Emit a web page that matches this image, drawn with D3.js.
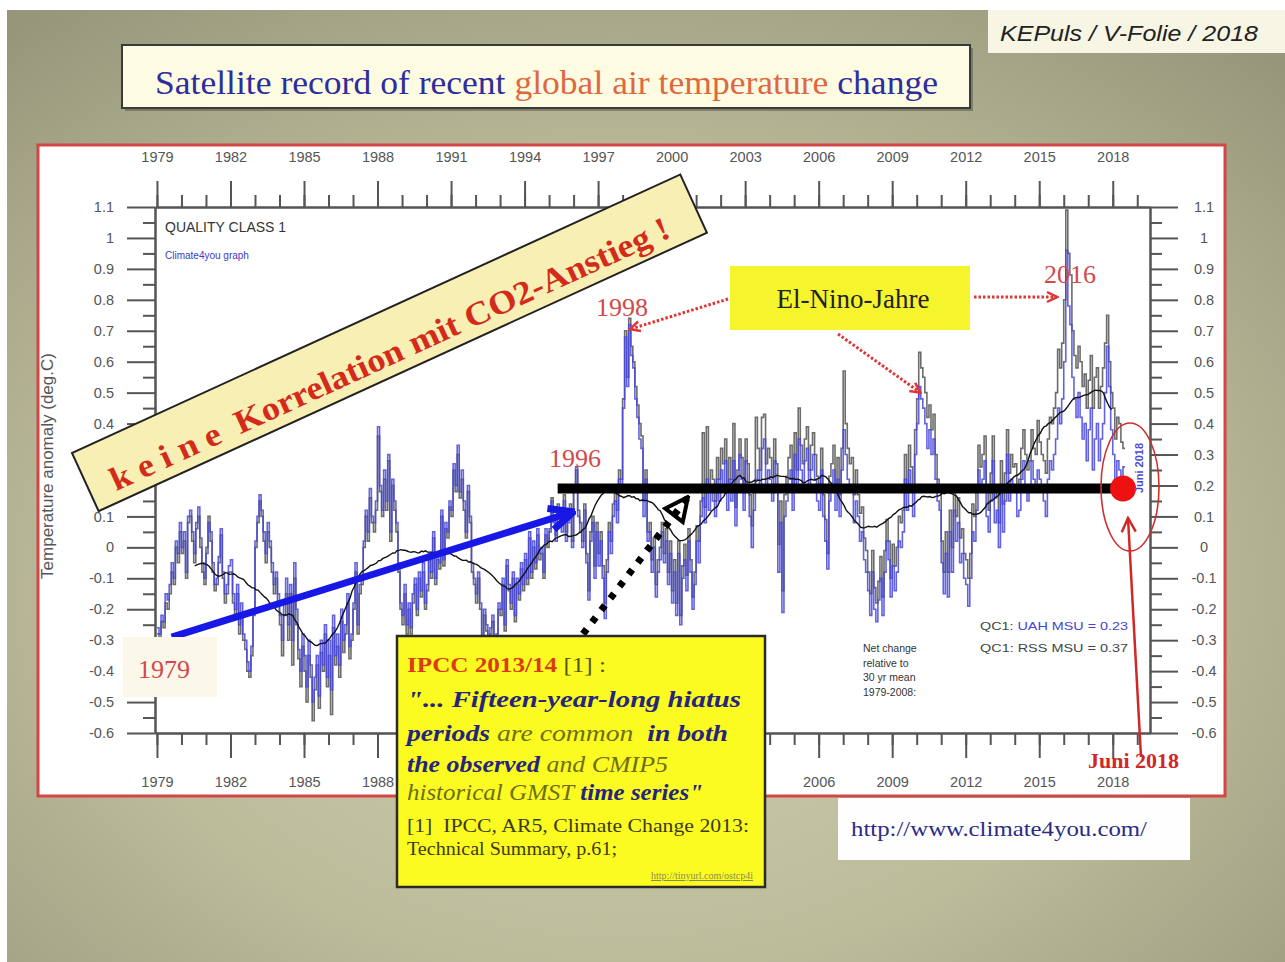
<!DOCTYPE html>
<html><head><meta charset="utf-8">
<script src="https://cdn.jsdelivr.net/npm/d3@7/dist/d3.min.js"></script>
<style>body{margin:0;background:#fff}svg{display:block}</style>
</head><body><svg id="c" width="1285" height="962"></svg>
<script>
// ---------------- DATA ----------------
const startYear = 1979;           // first month = Jan 1979
// UAH MSU lower troposphere, monthly anomaly (deg C) (blue)
const uah = [
-0.26,-0.28,-0.22,-0.24,-0.15,-0.17,-0.12,-0.05,-0.10,0.02,-0.02,0.08,
0.00,0.05,-0.08,0.10,0.12,0.05,-0.02,0.08,0.13,0.03,-0.05,-0.10,
-0.02,0.08,0.05,-0.05,-0.12,-0.10,-0.03,0.06,-0.08,-0.15,-0.12,-0.06,
-0.04,-0.15,-0.20,-0.12,-0.25,-0.18,-0.28,-0.30,-0.37,-0.40,-0.32,-0.20,
0.02,0.10,0.17,0.12,0.05,-0.02,0.08,0.02,-0.05,-0.12,-0.08,-0.15,
-0.22,-0.30,-0.18,-0.10,-0.25,-0.12,-0.30,-0.05,-0.20,-0.33,-0.40,-0.28,
-0.35,-0.45,-0.30,-0.38,-0.50,-0.42,-0.35,-0.48,-0.30,-0.38,-0.25,-0.42,
-0.30,-0.46,-0.22,-0.35,-0.28,-0.38,-0.20,-0.30,-0.25,-0.15,-0.32,-0.28,
-0.18,-0.05,-0.25,-0.12,-0.10,0.02,0.12,0.05,0.19,0.10,0.08,0.15,
0.39,0.20,0.12,0.25,0.15,0.30,0.05,0.22,0.15,0.08,-0.05,-0.18,
-0.22,-0.12,-0.25,-0.18,-0.26,-0.15,-0.10,-0.20,-0.08,-0.14,-0.05,-0.18,
-0.12,-0.02,-0.08,0.05,-0.10,-0.02,-0.05,0.12,-0.04,0.08,0.05,0.15,
0.12,0.27,0.20,0.33,0.18,0.25,0.15,0.05,0.20,0.10,-0.05,-0.10,
-0.15,-0.08,-0.18,-0.28,-0.20,-0.25,-0.30,-0.26,-0.22,-0.30,-0.28,-0.18,
-0.20,-0.10,-0.25,-0.04,-0.12,-0.18,-0.08,-0.22,-0.10,-0.15,-0.05,-0.12,
-0.02,-0.10,0.05,-0.08,0.02,-0.05,0.06,-0.02,0.00,-0.08,0.06,0.02,
0.05,0.15,0.08,0.02,0.12,0.10,0.05,0.15,0.02,0.08,0.12,0.00,
0.18,0.26,0.10,0.05,0.00,0.12,-0.05,-0.17,0.02,0.08,-0.10,0.05,
-0.06,0.02,-0.10,-0.23,-0.08,0.05,-0.02,0.10,0.15,0.08,0.22,0.18,
0.45,0.68,0.52,0.72,0.62,0.58,0.48,0.42,0.35,0.32,0.10,0.22,
0.02,0.05,-0.08,0.00,-0.16,-0.08,-0.04,0.05,-0.05,0.02,-0.12,-0.02,
-0.18,-0.08,-0.22,-0.02,-0.25,-0.10,-0.04,-0.14,0.02,-0.08,-0.20,-0.12,
0.02,-0.05,0.10,0.16,0.08,0.22,0.12,0.20,0.15,0.10,0.22,0.15,
0.25,0.20,0.28,0.12,0.22,0.15,0.28,0.07,0.18,0.30,0.22,0.12,
0.28,0.20,0.10,0.00,0.12,0.22,0.25,0.18,0.32,0.35,0.20,0.25,
0.22,0.15,0.28,0.20,-0.08,0.08,-0.21,0.10,0.15,0.22,0.25,0.12,
0.30,0.18,0.35,0.25,0.20,0.28,0.32,0.18,0.25,0.30,0.22,0.15,
0.12,0.25,0.10,0.02,-0.07,0.15,0.20,0.25,0.12,0.22,0.10,0.25,
0.38,0.30,0.22,0.18,0.20,0.08,0.15,0.10,0.02,0.05,-0.04,-0.08,
-0.14,-0.22,-0.08,-0.20,-0.24,-0.17,-0.10,-0.22,-0.08,0.02,-0.04,-0.16,
-0.06,-0.14,-0.08,0.02,0.00,0.05,0.22,0.12,0.25,0.18,0.10,0.30,
0.40,0.52,0.48,0.45,0.40,0.32,0.38,0.30,0.35,0.22,0.15,0.12,
-0.05,-0.15,-0.02,-0.16,0.05,-0.08,0.12,0.02,0.08,-0.05,-0.02,-0.10,
-0.12,-0.19,-0.10,0.05,0.02,0.12,0.25,0.18,0.22,0.28,0.10,0.05,
0.15,0.28,0.08,0.12,0.00,0.20,0.05,0.15,0.30,0.15,0.22,0.18,
0.18,0.10,0.12,0.22,0.28,0.20,0.15,0.18,0.28,0.22,0.20,0.25,
0.22,0.18,0.15,0.10,0.22,0.28,0.25,0.30,0.35,0.45,0.40,0.48,
0.60,0.96,0.78,0.72,0.55,0.48,0.42,0.50,0.42,0.35,0.40,0.28,
0.38,0.45,0.25,0.35,0.40,0.28,0.35,0.40,0.50,0.65,0.52,0.38,
0.30,0.18,0.28,0.25,0.20,0.26
];
// RSS MSU lower troposphere, monthly anomaly (deg C) (grey)
const rss = [
-0.28,-0.32,-0.24,-0.26,-0.18,-0.20,-0.15,-0.08,-0.12,0.00,-0.05,0.05,
-0.02,0.02,-0.10,0.08,0.10,0.02,-0.05,0.06,0.10,0.00,-0.08,-0.12,
0.00,0.10,0.02,-0.08,-0.14,-0.12,-0.05,0.04,-0.10,-0.18,-0.15,-0.08,
-0.08,-0.18,-0.22,-0.15,-0.28,-0.22,-0.30,-0.33,-0.40,-0.42,-0.35,-0.22,
0.00,0.08,0.15,0.10,0.02,-0.05,0.05,0.00,-0.08,-0.15,-0.10,-0.18,
-0.25,-0.35,-0.22,-0.15,-0.30,-0.15,-0.38,-0.10,-0.25,-0.36,-0.45,-0.32,
-0.40,-0.50,-0.35,-0.42,-0.56,-0.46,-0.38,-0.52,-0.34,-0.40,-0.28,-0.45,
-0.35,-0.54,-0.26,-0.38,-0.32,-0.42,-0.24,-0.34,-0.28,-0.18,-0.36,-0.30,
-0.20,-0.08,-0.28,-0.15,-0.12,0.00,0.10,0.02,0.16,0.08,0.05,0.12,
0.36,0.18,0.10,0.22,0.12,0.28,0.02,0.20,0.12,0.05,-0.08,-0.20,
-0.25,-0.15,-0.28,-0.20,-0.28,-0.18,-0.12,-0.22,-0.10,-0.16,-0.08,-0.20,
-0.14,-0.04,-0.10,0.03,-0.12,-0.04,-0.07,0.10,-0.06,0.06,0.03,0.13,
0.10,0.25,0.18,0.30,0.16,0.22,0.12,0.03,0.18,0.08,-0.08,-0.12,
-0.18,-0.10,-0.20,-0.30,-0.22,-0.27,-0.32,-0.28,-0.24,-0.32,-0.30,-0.20,
-0.22,-0.12,-0.27,-0.06,-0.14,-0.20,-0.10,-0.24,-0.12,-0.17,-0.07,-0.14,
-0.04,-0.12,0.03,-0.10,0.00,-0.07,0.04,-0.04,-0.02,-0.10,0.04,0.00,
0.06,0.16,0.10,0.04,0.14,0.12,0.08,0.17,0.05,0.10,0.14,0.02,
0.20,0.25,0.12,0.08,0.02,0.14,-0.02,-0.14,0.05,0.10,-0.06,0.08,
-0.02,0.05,-0.06,-0.18,-0.04,0.08,0.02,0.14,0.18,0.12,0.25,0.22,
0.48,0.70,0.55,0.74,0.65,0.60,0.52,0.46,0.40,0.36,0.15,0.25,
0.05,0.08,-0.04,0.03,-0.12,-0.04,0.00,0.08,-0.02,0.06,-0.08,0.02,
-0.14,-0.04,-0.18,0.02,-0.22,-0.06,0.01,-0.09,0.06,-0.04,-0.16,-0.08,
0.07,0.02,0.15,0.37,0.13,0.39,0.19,0.25,0.22,0.15,0.29,0.22,
0.32,0.27,0.35,0.19,0.29,0.22,0.40,0.13,0.25,0.35,0.29,0.19,
0.35,0.27,0.17,0.07,0.19,0.42,0.32,0.25,0.42,0.43,0.27,0.32,
0.29,0.23,0.35,0.27,0.01,0.15,-0.14,0.17,0.23,0.29,0.33,0.19,
0.37,0.25,0.45,0.33,0.27,0.35,0.39,0.25,0.33,0.37,0.30,0.23,
0.19,0.32,0.17,0.09,-0.02,0.23,0.27,0.33,0.19,0.29,0.17,0.32,
0.57,0.40,0.32,0.27,0.29,0.17,0.25,0.17,0.11,0.13,0.03,-0.01,
-0.08,-0.15,-0.01,-0.13,-0.18,-0.11,-0.03,-0.16,-0.01,0.09,0.02,-0.10,
0.01,-0.06,0.00,0.10,0.08,0.12,0.30,0.20,0.33,0.26,0.18,0.38,
0.48,0.63,0.58,0.55,0.50,0.42,0.46,0.38,0.43,0.30,0.22,0.20,
0.02,-0.08,0.05,-0.08,0.12,0.00,0.20,0.10,0.16,0.03,0.06,-0.02,
-0.04,-0.10,-0.02,0.14,0.10,0.20,0.33,0.26,0.30,0.36,0.18,0.12,
0.24,0.36,0.16,0.20,0.08,0.28,0.14,0.24,0.38,0.24,0.30,0.26,
0.27,0.20,0.22,0.32,0.38,0.30,0.25,0.28,0.38,0.32,0.30,0.41,
0.34,0.30,0.28,0.24,0.35,0.42,0.40,0.45,0.50,0.64,0.58,0.66,
0.80,1.09,0.95,0.88,0.70,0.62,0.58,0.65,0.60,0.52,0.56,0.45,
0.54,0.62,0.45,0.55,0.58,0.45,0.52,0.58,0.66,0.75,0.60,0.50,
0.45,0.35,0.42,0.40,0.34,0.32
];
const xTickYears = [1979,1982,1985,1988,1991,1994,1997,2000,2003,2006,2009,2012,2015,2018];
const xHiddenBottom = [1991,1994,1997,2000,2003];   // bottom labels covered by the IPCC box
const yTickValues = [-0.6,-0.5,-0.4,-0.3,-0.2,-0.1,0,0.1,0.2,0.3,0.4,0.5,0.6,0.7,0.8,0.9,1,1.1];
const yTickLabels = ["-0.6","-0.5","-0.4","-0.3","-0.2","-0.1","0","0.1","0.2","0.3","0.4","0.5","0.6","0.7","0.8","0.9","1","1.1"];
const runWindow = 37; // months, running mean
const plateauValue = 0.19, plateauFrom = 1995.35, plateauTo = 2018.4;

// ---------------- CHART ----------------
const svg = d3.select("#c");
const defs = svg.append("defs");
const rg = defs.append("radialGradient").attr("id","bg").attr("cx","48%").attr("cy","60%").attr("r","75%");
rg.append("stop").attr("offset","0%").attr("stop-color","#d0d0b1");
rg.append("stop").attr("offset","55%").attr("stop-color","#bcbc9b");
rg.append("stop").attr("offset","100%").attr("stop-color","#96967b");

function marker(id, path, color, w, size, fill){
  defs.append("marker").attr("id",id).attr("viewBox",`0 0 ${size} ${size}`)
    .attr("refX",size-2).attr("refY",size/2).attr("markerWidth",size).attr("markerHeight",size)
    .attr("markerUnits","userSpaceOnUse").attr("orient","auto")
    .append("path").attr("d",path).attr("fill",fill||"none").attr("stroke",color)
    .attr("stroke-width",w).attr("stroke-linejoin","miter");
}
marker("mBlue","M4,4 L28,15 L4,26","#1818e6",7,30);
marker("mRed","M2,2 L12,7 L2,12","#e23434",2.5,14);
marker("mRed2","M2,2 L16,9 L2,16","#d02828",2.5,18);
marker("mBlack","M3,3 L26,14 L3,25 Z","#000",4,28,"none");

svg.append("rect").attr("width",1285).attr("height",962).attr("fill","#fff");
svg.append("rect").attr("x",7).attr("y",10).attr("width",1278).attr("height",952).attr("fill","url(#bg)");

// header boxes
svg.append("rect").attr("x",988).attr("y",10).attr("width",297).attr("height",43).attr("fill","#f7f5e4");
svg.append("text").attr("x",1000).attr("y",41).attr("font-family","Liberation Sans").attr("font-style","italic")
  .attr("font-size",22).attr("fill","#222").attr("textLength",258).attr("lengthAdjust","spacingAndGlyphs")
  .text("KEPuls / V-Folie / 2018");

svg.append("rect").attr("x",125).attr("y",48).attr("width",848).attr("height",63).attr("fill","#5a5a48").attr("opacity",0.55);
svg.append("rect").attr("x",122).attr("y",45).attr("width",848).attr("height",63).attr("fill","#fdfbe2").attr("stroke","#3a3a3a").attr("stroke-width",2);
const tt = svg.append("text").attr("x",155).attr("y",94).attr("font-family","Liberation Serif").attr("font-size",34)
  .attr("textLength",783).attr("lengthAdjust","spacingAndGlyphs");
tt.append("tspan").attr("fill","#2d2d9e").text("Satellite record of recent ");
tt.append("tspan").attr("fill","#e0683e").text("global air temperature");
tt.append("tspan").attr("fill","#2d2d9e").text(" change");

// chart frame
svg.append("rect").attr("x",38).attr("y",145).attr("width",1187).attr("height",651).attr("fill","#fff").attr("stroke","#d24646").attr("stroke-width",3);

// scales
const x = d3.scaleLinear().domain([1978.92, 2019.52]).range([155,1150]);
const y = d3.scaleLinear().domain([-0.6,1.1]).range([733,207]);

const minorX = d3.range(1979, 2020);
const minorY = d3.range(-11,22,2).map(k=>Math.round(k*5)/100);
const fmt = d => yTickLabels[yTickValues.findIndex(v=>Math.abs(v-d)<1e-9)];
const axColor = "#555";
function styleAxis(g){
  g.selectAll("path.domain").attr("stroke",axColor).attr("stroke-width",2);
  g.selectAll(".tick line").attr("stroke",axColor).attr("stroke-width",2);
  g.selectAll("text").attr("font-family","Liberation Sans").attr("font-size",14.5).attr("fill","#555");
}
// minor ticks
svg.append("g").attr("transform","translate(0,207)").call(d3.axisTop(x).tickValues(minorX).tickSize(12).tickSizeOuter(0).tickFormat("")).call(styleAxis);
svg.append("g").attr("transform","translate(0,733)").call(d3.axisBottom(x).tickValues(minorX).tickSize(12).tickSizeOuter(0).tickFormat("")).call(styleAxis);
svg.append("g").attr("transform","translate(155,0)").call(d3.axisLeft(y).tickValues(minorY).tickSize(12).tickSizeOuter(0).tickFormat("")).call(styleAxis);
svg.append("g").attr("transform","translate(1150,0)").call(d3.axisRight(y).tickValues(minorY).tickSize(12).tickSizeOuter(0).tickFormat("")).call(styleAxis);
// major ticks
svg.append("g").attr("transform","translate(0,207)").call(d3.axisTop(x).tickValues(xTickYears).tickSize(26).tickSizeOuter(0).tickPadding(19).tickFormat(d3.format("d"))).call(styleAxis);
svg.append("g").attr("transform","translate(0,733)").call(d3.axisBottom(x).tickValues(xTickYears).tickSize(25).tickSizeOuter(0).tickPadding(19)
  .tickFormat(d => xHiddenBottom.includes(d) ? "" : String(d))).call(styleAxis);
svg.append("g").attr("transform","translate(155,0)").call(d3.axisLeft(y).tickValues(yTickValues).tickSize(28).tickSizeOuter(0).tickPadding(13).tickFormat(fmt)).call(styleAxis);
const ra = svg.append("g").attr("transform","translate(1150,0)").call(d3.axisRight(y).tickValues(yTickValues).tickSize(28).tickSizeOuter(0).tickFormat(fmt)).call(styleAxis);
ra.selectAll("text").attr("x",54).attr("text-anchor","middle");

svg.append("text").attr("transform","translate(53,466) rotate(-90)").attr("text-anchor","middle")
  .attr("font-family","Liberation Sans").attr("font-size",17).attr("fill","#555").text("Temperature anomaly (deg.C)");

// data
defs.append("clipPath").attr("id","plot").append("rect").attr("x",155).attr("y",207).attr("width",995).attr("height",526);
const toPts = arr => { const p = arr.map((v,i)=>[startYear+i/12, v]); p.push([startYear+arr.length/12, arr[arr.length-1]]); return p; };
const stepLine = d3.line().x(d=>x(d[0])).y(d=>y(d[1])).curve(d3.curveStepAfter);
const dg = svg.append("g").attr("clip-path","url(#plot)");
dg.append("path").attr("d",stepLine(toPts(rss))).attr("fill","none").attr("stroke","#5c5c5c").attr("stroke-width",1.6).attr("opacity",0.9);
dg.append("path").attr("d",stepLine(toPts(uah))).attr("fill","none").attr("stroke","#4848dc").attr("stroke-width",1.6).attr("opacity",0.85);
// 37-month running mean of both series
const both = uah.map((v,i)=>(v+rss[i])/2);
const half = (runWindow-1)/2, run = [];
for(let i=half;i<both.length-6;i++){
  const w = both.slice(i-half, Math.min(both.length,i+half+1));
  run.push([startYear+(i+0.5)/12, d3.mean(w)]);
}
dg.append("path").attr("d",d3.line().x(d=>x(d[0])).y(d=>y(d[1]))(run)).attr("fill","none").attr("stroke","#111").attr("stroke-width",1.4);

// in-chart texts
svg.append("text").attr("x",165).attr("y",232).attr("font-family","Liberation Sans").attr("font-size",14).attr("fill","#333").text("QUALITY CLASS 1");
svg.append("text").attr("x",165).attr("y",259).attr("font-family","Liberation Sans").attr("font-size",10).attr("fill","#3c3cc8").text("Climate4you graph");
["Net change","relative to","30 yr mean","1979-2008:"].forEach((t,i)=>
  svg.append("text").attr("x",863).attr("y",652+i*14.5).attr("font-family","Liberation Sans").attr("font-size",10.5).attr("fill","#333").text(t));
const q1 = svg.append("text").attr("x",980).attr("y",630).attr("font-family","Liberation Sans").attr("font-size",11.5).attr("textLength",148).attr("lengthAdjust","spacingAndGlyphs");
q1.append("tspan").attr("fill","#444").text("QC1: ");
q1.append("tspan").attr("fill","#4545d2").text("UAH MSU = 0.23");
svg.append("text").attr("x",980).attr("y",652).attr("font-family","Liberation Sans").attr("font-size",11.5).attr("fill","#444")
  .attr("textLength",148).attr("lengthAdjust","spacingAndGlyphs").text("QC1: RSS MSU = 0.37");

// plateau line
svg.append("line").attr("x1",x(plateauFrom)).attr("x2",x(plateauTo)).attr("y1",y(plateauValue)).attr("y2",y(plateauValue))
  .attr("stroke","#000").attr("stroke-width",10);

// blue trend arrow 1979 -> 1996
svg.append("line").attr("x1",x(1979.6)).attr("y1",y(-0.29)).attr("x2",x(1996.0)).attr("y2",y(0.115))
  .attr("stroke","#1818e6").attr("stroke-width",7).attr("marker-end","url(#mBlue)");

// dotted black arrow from IPCC box
svg.append("line").attr("x1",583).attr("y1",634).attr("x2",688).attr("y2",497)
  .attr("stroke","#000").attr("stroke-width",7).attr("stroke-dasharray","6,9").attr("marker-end","url(#mBlack)");

// banner
const bn = svg.append("g").attr("transform","translate(72,453) rotate(-24.6)");
bn.append("rect").attr("width",669).attr("height",64).attr("fill","#f7efb4").attr("stroke","#222").attr("stroke-width",2);
bn.append("text").attr("x",24).attr("y",53).attr("font-family","Liberation Serif").attr("font-weight","bold").attr("font-size",33)
  .attr("fill","#d42a1a").attr("textLength",612).attr("lengthAdjust","spacingAndGlyphs").style("white-space","pre")
  .text("k e i n e  Korrelation mit CO2-Anstieg !");

// year labels
const redLab = (t,cx,by)=>svg.append("text").attr("x",cx).attr("y",by).attr("text-anchor","middle").attr("font-family","Liberation Serif").attr("font-size",26).attr("fill","#d34848").text(t);
svg.append("rect").attr("x",123).attr("y",637).attr("width",94).attr("height",60).attr("fill","#fbf8ea");
redLab("1979",164,678);
redLab("1998",622,316);
redLab("1996",575,467);
redLab("2016",1070,283);

// El-Nino box + arrows
svg.append("rect").attr("x",730).attr("y",266).attr("width",240).attr("height",64).attr("fill","#f6f42c");
svg.append("text").attr("x",853).attr("y",308).attr("text-anchor","middle").attr("font-family","Liberation Serif").attr("font-size",27).attr("fill","#222").text("El-Nino-Jahre");
const redDot = (x1,y1,x2,y2)=>svg.append("line").attr("x1",x1).attr("y1",y1).attr("x2",x2).attr("y2",y2)
  .attr("stroke","#e23434").attr("stroke-width",3).attr("stroke-dasharray","2.5,2").attr("marker-end","url(#mRed)");
redDot(728,299,x(1998.3),y(0.705));
redDot(974,297,1057,297);
redDot(838,334,x(2010.15),y(0.5));

// June 2018 marks
svg.append("ellipse").attr("cx",1130).attr("cy",487).attr("rx",29).attr("ry",64).attr("fill","none").attr("stroke","#cc3030").attr("stroke-width",1.6);
svg.append("circle").attr("cx",x(2018.42)).attr("cy",y(plateauValue)).attr("r",13).attr("fill","#ee1111");
svg.append("text").attr("transform","translate(1143,468) rotate(-90)").attr("text-anchor","middle").attr("font-family","Liberation Sans")
  .attr("font-weight","bold").attr("font-size",11).attr("fill","#4a4ad8").text("Juni 2018");
svg.append("line").attr("x1",1141).attr("y1",757).attr("x2",1128).attr("y2",518).attr("stroke","#d02828").attr("stroke-width",2.5).attr("marker-end","url(#mRed2)");
svg.append("text").attr("x",1088).attr("y",768).attr("font-family","Liberation Serif").attr("font-weight","bold").attr("font-size",22).attr("fill","#d02828").text("Juni 2018");

// IPCC box
svg.append("rect").attr("x",397).attr("y",636).attr("width",368).attr("height",251).attr("fill","#fbfb22").attr("stroke","#2a2a2a").attr("stroke-width",2.5);
function line(yb, len, parts, size){
  const t = svg.append("text").attr("x",407).attr("y",yb).attr("font-family","Liberation Serif").attr("font-size",size)
    .attr("textLength",len).attr("lengthAdjust","spacingAndGlyphs").style("white-space","pre");
  parts.forEach(p=>t.append("tspan").attr("fill",p[1]).attr("font-weight",p[2]?"bold":"normal").attr("font-style",p[3]?"italic":"normal").text(p[0]));
}
const bl="#25257e", ol="#6e6e14";
line(672,199,[["IPCC 2013/14","#dd3a10",1,0],[" [1] :","#55550c",0,0]],20);
line(707,334,[["\"... Fifteen-year-long hiatus",bl,1,1]],24);
line(741,321,[["periods",bl,1,1],[" are common ",ol,0,1],[" in both",bl,1,1]],24);
line(772,261,[["the observed",bl,1,1],[" and CMIP5",ol,0,1]],24);
line(800,296,[["historical GMST",ol,0,1],[" time series\"",bl,1,1]],24);
line(832,342,[["[1]  IPCC, AR5, Climate Change 2013:","#3b3b12",0,0]],18);
line(855,210,[["Technical Summary, p.61;","#3b3b12",0,0]],18);
svg.append("text").attr("x",753).attr("y",879).attr("text-anchor","end").attr("font-family","Liberation Serif").attr("font-size",10)
  .attr("fill","#8a8a5a").attr("text-decoration","underline").text("http://tinyurl.com/ostcp4i");

// URL box
svg.append("rect").attr("x",838).attr("y",798).attr("width",352).attr("height",62).attr("fill","#fefefe");
svg.append("text").attr("x",851).attr("y",836).attr("font-family","Liberation Serif").attr("font-size",22).attr("fill","#2b2b85")
  .attr("textLength",296).attr("lengthAdjust","spacingAndGlyphs").text("http://www.climate4you.com/");
</script></body></html>
